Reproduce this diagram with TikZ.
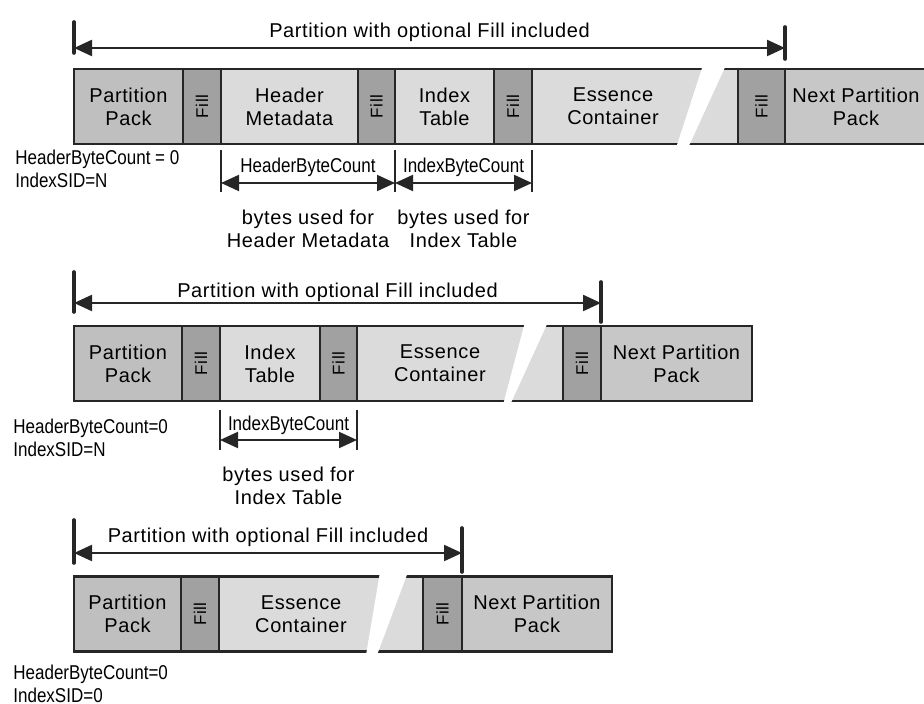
\documentclass[tikz,border=0pt]{standalone}
\usepackage{fontspec}
\setmainfont{Liberation Sans}[LetterSpace=3]
\newfontfamily\narrowfont{Liberation Sans}[FakeStretch=0.85]
\usetikzlibrary{positioning,arrows.meta}
\definecolor{packgray}{gray}{0.75}
\definecolor{fillgray}{gray}{0.63}
\definecolor{datagray}{gray}{0.86}
\definecolor{nextgray}{gray}{0.78}
\definecolor{edgegray}{gray}{0.15}
\tikzset{
  seg/.style={draw=edgegray, line width=1.2pt, inner sep=0pt, outer sep=0pt, minimum height=37.5pt, align=center, font=\fontsize{10}{11.5}\selectfont},
  packseg/.style={seg, fill=packgray},
  fillseg/.style={seg, fill=fillgray, minimum width=19pt, font=\fontsize{8.5}{9}\selectfont},
  dataseg/.style={seg, fill=datagray},
  nextseg/.style={seg, fill=nextgray},
  brk/.style={fill=white},
  span/.style={{Triangle[length=9pt,width=8pt]}-{Triangle[length=9pt,width=8pt]}, line width=1.1pt, draw=edgegray},
  bar/.style={line width=1.8pt, draw=edgegray, line cap=round},
  subspan/.style={span, line width=1pt},
  subbar/.style={line width=0.8pt, draw=edgegray},
  note/.style={font=\narrowfont\fontsize{10}{11.5}\selectfont, align=left, inner sep=0pt},
  remark/.style={font=\fontsize{10}{11.5}\selectfont, align=center, inner sep=0pt},
}
\newcommand\filltag{\rotatebox{90}{Fill}}
\begin{document}
\begin{tikzpicture}[x=0.5pt, y=-0.5pt]
    \useasboundingbox (0,0) rectangle (924,704);
    % first row: header metadata and index table
    \node[packseg, minimum width=54.5pt] (pp1) at (128.5,106.5) {Partition\\Pack};
    \node[fillseg, right=0pt of pp1] (fa1) {\filltag};
    \node[dataseg, minimum width=68.5pt, right=0pt of fa1] (hm1) {Header\\Metadata};
    \node[fillseg, minimum width=18.5pt, right=0pt of hm1] (fb1) {\filltag};
    \node[dataseg, minimum width=49.5pt, right=0pt of fb1] (it1) {Index\\Table};
    \node[fillseg, right=0pt of it1] (fc1) {\filltag};
    \node[dataseg, minimum width=103pt, right=0pt of fc1] (ec1) {};
    \node[fillseg, minimum width=23.5pt, right=0pt of ec1] (fd1) {\filltag};
    \node[nextseg, minimum width=71pt, right=0pt of fd1] (np1) {Next Partition\\Pack};
    \node[remark, xshift=-11pt] (et1) at (ec1) {Essence\\Container};
    \fill[brk] (703,65) -- (726,65) -- (688,148) -- (676,148) -- cycle;
    \coordinate (s1l) at ([yshift=10.5pt]pp1.north west);
    \coordinate (s1r) at ([yshift=10.5pt]fd1.north east);
    \draw[bar] ([yshift=-2.5pt]s1l) -- ([yshift=13pt]s1l);
    \draw[bar] ([yshift=-5.5pt]s1r) -- ([yshift=10.5pt]s1r);
    \draw[span] (s1l) -- (s1r) node[midway, yshift=8pt, remark] (lab1) {Partition with optional Fill included};
    \node[note, anchor=west] (cnt1) at (15,168.5) {HeaderByteCount = 0\\IndexSID=N};
    \coordinate (h1a) at ([yshift=-19.5pt]hm1.south west);
    \coordinate (h1b) at ([yshift=-19.5pt]fb1.south east);
    \coordinate (h1c) at ([yshift=-19.5pt]fc1.south east);
    \foreach \p in {h1a,h1b,h1c}
        \draw[subbar] ([yshift=16.5pt]\p) -- ([yshift=-4.5pt]\p);
    \draw[subspan] (h1a) -- (h1b)
        node[midway, yshift=8pt, note] (hbc1) {HeaderByteCount}
        node[midway, yshift=-22.75pt, remark] (hmu1) {bytes used for\\Header Metadata};
    \draw[subspan] (h1b) -- (h1c)
        node[midway, yshift=8pt, note] (ibc1) {IndexByteCount}
        node[midway, yshift=-22.75pt, remark] (itu1) {bytes used for\\Index Table};
    % second row: index table only
    \node[packseg, minimum width=54pt] (pp2) at (128,363.5) {Partition\\Pack};
    \node[fillseg, right=0pt of pp2] (fa2) {\filltag};
    \node[dataseg, minimum width=50pt, right=0pt of fa2] (it2) {Index\\Table};
    \node[fillseg, minimum width=18.5pt, right=0pt of it2] (fb2) {\filltag};
    \node[dataseg, minimum width=103pt, right=0pt of fb2] (ec2) {};
    \node[fillseg, right=0pt of ec2] (fc2) {\filltag};
    \node[nextseg, minimum width=75.5pt, right=0pt of fc2] (np2) {Next Partition\\Pack};
    \node[remark, xshift=-10pt] (et2) at (ec2) {Essence\\Container};
    \fill[brk] (525,322) -- (548,322) -- (510,405) -- (503,405) -- cycle;
    \coordinate (s2l) at ([yshift=11.5pt]pp2.north west);
    \coordinate (s2r) at ([yshift=11.5pt]fc2.north east);
    \draw[bar] ([yshift=-4.5pt]s2l) -- ([yshift=15.5pt]s2l);
    \draw[bar] ([yshift=-9.5pt]s2r) -- ([yshift=10.5pt]s2r);
    \draw[span] (s2l) -- (s2r) node[midway, yshift=5.5pt, remark] (lab2) {Partition with optional Fill included};
    \node[note, anchor=west] (cnt2) at (13,437.5) {HeaderByteCount=0\\IndexSID=N};
    \coordinate (i2a) at ([yshift=-19.5pt]it2.south west);
    \coordinate (i2b) at ([yshift=-19.5pt]fb2.south east);
    \foreach \p in {i2a,i2b}
        \draw[subbar] ([yshift=15pt]\p) -- ([yshift=-5pt]\p);
    \draw[subspan] (i2a) -- (i2b)
        node[midway, yshift=7.5pt, note] (ibc2) {IndexByteCount}
        node[midway, yshift=-22.75pt, remark] (itu2) {bytes used for\\Index Table};
    % third row: no header, no index
    \node[packseg, minimum width=53.5pt] (pp3) at (127.5,614) {Partition\\Pack};
    \node[fillseg, right=0pt of pp3] (fa3) {\filltag};
    \node[dataseg, minimum width=102pt, right=0pt of fa3] (ec3) {};
    \node[fillseg, minimum width=19.5pt, right=0pt of ec3] (fb3) {\filltag};
    \node[nextseg, minimum width=75pt, right=0pt of fb3] (np3) {Next Partition\\Pack};
    \node[remark, xshift=-10pt] (et3) at (ec3) {Essence\\Container};
    \fill[brk] (380,572) -- (408,572) -- (377,655) -- (366,655) -- cycle;
    \coordinate (s3l) at ([yshift=11.75pt]pp3.north west);
    \coordinate (s3r) at ([yshift=11.75pt]fb3.north east);
    \draw[bar] ([yshift=-5pt]s3l) -- ([yshift=16.5pt]s3l);
    \draw[bar] ([yshift=-9.5pt]s3r) -- ([yshift=12.5pt]s3r);
    \draw[span] (s3l) -- (s3r) node[midway, yshift=8pt, remark] (lab3) {Partition with optional Fill included};
    \node[note, anchor=west] (cnt3) at (13,684) {HeaderByteCount=0\\IndexSID=0};
\end{tikzpicture}
\end{document}
